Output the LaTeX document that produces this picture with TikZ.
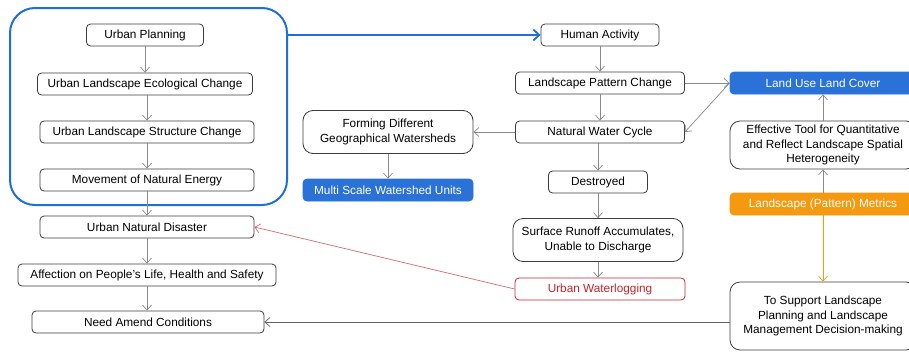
\documentclass[tikz,border=0pt]{standalone}
\usepackage{fontspec}
\setmainfont{Liberation Sans}
\usetikzlibrary{arrows.meta}
\definecolor{bblue}{HTML}{1F6FD8}
\definecolor{fblue}{HTML}{2A72D8}
\definecolor{oorange}{HTML}{F59A10}
\definecolor{rred}{HTML}{C8232B}
\definecolor{lred}{HTML}{D26A6E}
\definecolor{bord}{HTML}{3C3C3C}
\definecolor{lgray}{HTML}{8A8A8A}
\tikzset{
  box/.style={draw=bord, line width=0.8pt, rounded corners=4pt, fill=white,
    minimum height=22pt, inner sep=1pt, align=center,
    font=\fontsize{11.8}{14.2}\selectfont, text=black},
  bigbox/.style={box, rounded corners=10pt},
  bluebox/.style={box, draw=fblue, fill=fblue, text=white},
  orangebox/.style={box, draw=oorange, fill=oorange, text=white},
  redbox/.style={box, draw=rred, text=rred},
  conn/.style={draw=lgray, line width=0.7pt, -{Straight Barb[length=5pt,width=9pt]}},
}
\begin{document}
\begin{tikzpicture}[x=1pt,y=-1pt]
\useasboundingbox (0,0) rectangle (909,351);
\clip (0,0) rectangle (909,351);
% frame
\node[draw=bblue, line width=2pt, rounded corners=25pt, minimum width=277pt, minimum height=197pt, inner sep=0pt] (frame) at (148.5,106.5) {};
% left column
\node[box, minimum width=117pt] (plan) at (145,35) {Urban Planning};
\node[box, minimum width=215pt] (eco) at (145,84) {Urban Landscape Ecological Change};
\node[box, minimum width=214pt] (struc) at (147,132) {Urban Landscape Structure Change};
\node[box, minimum width=214pt] (move) at (147,180) {Movement of Natural Energy};
\node[box, minimum width=214pt] (dis) at (147,227) {Urban Natural Disaster};
\node[box, minimum width=258pt] (aff) at (147,275) {Affection on People’s Life, Health and Safety};
\node[box, minimum width=232pt] (amend) at (148,322) {Need Amend Conditions};
% middle
\node[box, minimum width=118pt] (human) at (600,35) {Human Activity};
\node[box, minimum width=169pt] (lpc) at (600,83) {Landscape Pattern Change};
\node[box, minimum width=169pt] (nwc) at (600,132) {Natural Water Cycle};
\node[bigbox, minimum width=170pt, minimum height=43pt] (form) at (388,132) {Forming Different\\Geographical Watersheds};
\node[bluebox, minimum width=170pt] (msw) at (388,190) {Multi Scale Watershed Units};
\node[box, minimum width=99pt] (destroyed) at (598,182) {Destroyed};
\node[bigbox, minimum width=170pt, minimum height=43pt] (runoff) at (598,240) {Surface Runoff Accumulates,\\Unable to Discharge};
\node[redbox, minimum width=170pt] (wl) at (600,289) {Urban Waterlogging};
% right
\node[bluebox, minimum width=186pt] (lulc) at (823,83) {Land Use Land Cover};
\node[bigbox, minimum width=186pt, minimum height=48pt] (eff) at (823,145) {Effective Tool for Quantitative\\and Reflect Landscape Spatial\\Heterogeneity};
\node[orangebox, minimum width=186pt] (metrics) at (823,204) {Landscape (Pattern) Metrics};
\node[bigbox, minimum width=186pt, minimum height=68pt] (support) at (823,316) {To Support Landscape\\Planning and Landscape\\Management Decision-making};
% connectors
\draw[conn] (plan.south) -- (eco.north);
\draw[conn] (eco.south -| struc.north) -- (struc.north);
\draw[conn] (struc.south) -- (move.north);
\draw[conn] (move.south) -- (dis.north);
\draw[conn] (dis.south) -- (aff.north);
\draw[conn] (aff.south) -- (amend.north -| aff.south);
\draw[bblue, line width=1.8pt, -{Straight Barb[length=6pt,width=11pt]}] (frame.east |- human.west) -- (human.west);
\draw[conn] (human.south) -- (lpc.north);
\draw[conn] (lpc.south) -- (nwc.north);
\draw[conn] (nwc.west) -- (form.east);
\draw[conn] (form.south) -- (msw.north);
\draw[conn] (nwc.south -| destroyed.north) -- (destroyed.north);
\draw[conn] (destroyed.south) -- (runoff.north);
\draw[conn] (runoff.south) -- (runoff.south |- wl.north);
\draw[conn, draw=lred] (wl.west) -- (dis.east);
\draw[conn, draw=bord!80] (support.west |- amend.east) -- (amend.east);
\draw[conn] (lpc.east) -- (lulc.west);
\draw[conn] (lulc.west) -- (nwc.east);
\draw[conn] (eff.north) -- (lulc.south);
\draw[conn] (metrics.north) -- (eff.south);
\draw[conn, draw=oorange] (metrics.south) -- (support.north);
\end{tikzpicture}
\end{document}
